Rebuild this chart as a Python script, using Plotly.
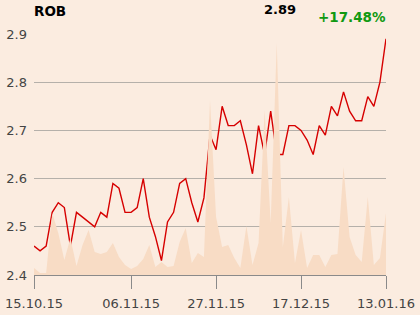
import plotly.graph_objects as go

prices = [2.46, 2.45, 2.46, 2.53, 2.55, 2.54, 2.46, 2.53, 2.52, 2.51,
          2.50, 2.53, 2.52, 2.59, 2.58, 2.53, 2.53, 2.54, 2.60, 2.52,
          2.48, 2.43, 2.51, 2.53, 2.59, 2.60, 2.55, 2.51, 2.56, 2.69,
          2.66, 2.75, 2.71, 2.71, 2.72, 2.67, 2.61, 2.71, 2.65, 2.74,
          2.65, 2.65, 2.71, 2.71, 2.70, 2.68, 2.65, 2.71, 2.69, 2.75,
          2.73, 2.78, 2.74, 2.72, 2.72, 2.77, 2.75, 2.80, 2.89]

volumes = [7, 2, 2, 62, 42, 15, 37, 9, 30, 45,
           23, 21, 23, 32, 18, 10, 6, 9, 16, 30,
           8, 13, 8, 9, 33, 47, 12, 22, 18, 175,
           58, 28, 30, 17, 7, 49, 10, 32, 165, 52,
           232, 28, 78, 12, 45, 7, 20, 20, 8, 20,
           21, 108, 38, 20, 13, 78, 10, 17, 62]

tick_idx = [0, 16, 30, 44, 58]
tick_labels = ["15.10.15", "06.11.15", "27.11.15", "17.12.15", "13.01.16"]
y_ticks = [2.4, 2.5, 2.6, 2.7, 2.8, 2.9]

symbol = "ROB"
last_price = "2.89"
change = "+17.48%"

x = list(range(len(prices)))

fig = go.Figure()
fig.add_trace(go.Scatter(
    x=x, y=volumes, yaxis="y2", mode="lines",
    line=dict(width=0, color="#f7d9c1"),
    fill="tozeroy", fillcolor="#f8dcc5", hoverinfo="skip",
))
fig.add_trace(go.Scatter(
    x=x, y=prices, mode="lines",
    line=dict(color="#d60000", width=1.4),
))

bg = "#fbece0"
fig.update_layout(
    width=420, height=315,
    margin=dict(l=34, r=34, t=34, b=40, autoexpand=False),
    paper_bgcolor=bg, plot_bgcolor=bg,
    showlegend=False,
    font=dict(family="DejaVu Sans", size=13, color="#444444"),
    xaxis=dict(
        range=[0, len(prices) - 1], tickvals=tick_idx, ticktext=tick_labels,
        showgrid=False, zeroline=False, showline=True, linecolor="#8a8a8a",
        linewidth=1, ticks="outside", ticklen=13, tickcolor="#8a8a8a",
        tickfont=dict(size=13, color="#444444"), automargin=False,
        ticklabelstandoff=3,
    ),
    yaxis=dict(
        range=[2.4, 2.9], tickvals=y_ticks, ticktext=[f"{v:.1f}" for v in y_ticks],
        showgrid=True, gridcolor="#b5b0aa", gridwidth=1, zeroline=False,
        ticks="", tickfont=dict(size=13, color="#444444"), automargin=False,
        ticklabelstandoff=6,
    ),
    yaxis2=dict(
        range=[0, 241], overlaying="y", side="right", visible=False,
    ),
)

fig.add_annotation(xref="paper", yref="paper", x=-0.006, y=1.0975, text=f"<b>{symbol}</b>",
                   showarrow=False, xanchor="left", yanchor="middle",
                   font=dict(family="DejaVu Sans", size=13.5, color="#000000"))
fig.add_annotation(xref="paper", yref="paper", x=0.647, y=1.1017, text=f"<b>{last_price}</b>",
                   showarrow=False, xanchor="left", yanchor="middle",
                   font=dict(family="DejaVu Sans", size=13, color="#000000"))
fig.add_annotation(xref="paper", yref="paper", x=1.006, y=1.0718, text=f"<b>{change}</b>",
                   showarrow=False, xanchor="right", yanchor="middle",
                   font=dict(family="DejaVu Sans", size=13.5, color="#119911"))

fig.write_html("out.html")
